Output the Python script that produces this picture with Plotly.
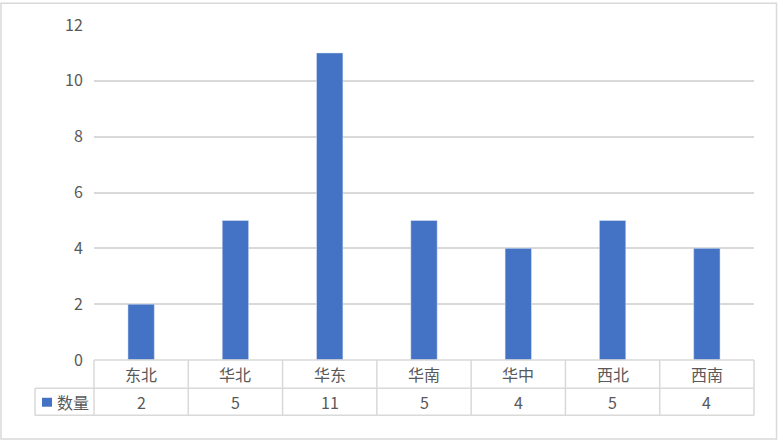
import plotly.graph_objects as go

categories = ["东北", "华北", "华东", "华南", "华中", "西北", "西南"]
values = [2, 5, 11, 5, 4, 5, 4]
series_name = "数量"
y_ticks = [0, 2, 4, 6, 8, 10, 12]

W, H = 778, 441
L, R, T, B = 94, 754, 23, 360  # plot area in pixels
PW, PH = R - L, B - T

def px(x):
    return (x - L) / PW

def py(y):
    return (B - y) / PH

BAR = "#4472C4"
GRID = "#D9D9D9"
TXT = "#595959"
FONT = "Noto Sans CJK SC"

fig = go.Figure(go.Bar(x=categories, y=values, marker_color=BAR, width=0.28,
                       name=series_name, showlegend=False, hoverinfo="x+y"))

shapes = []
line = dict(color=GRID, width=1.5)
row1, row2 = 388.5, 415.5
n = len(categories)
# horizontal table lines
shapes.append(dict(type="line", xref="paper", yref="paper", x0=0, x1=1, y0=0, y1=0, line=line))
for yy in (row1, row2):
    shapes.append(dict(type="line", xref="paper", yref="paper", x0=px(35), x1=1, y0=py(yy), y1=py(yy), line=line))
# vertical table lines
shapes.append(dict(type="line", xref="paper", yref="paper", x0=px(35), x1=px(35), y0=py(row1), y1=py(row2), line=line))
shapes.append(dict(type="line", xref="paper", yref="paper", x0=0, x1=0, y0=0, y1=py(row2), line=line))
for i in range(n):
    xb = (i + 1) / n
    shapes.append(dict(type="line", xref="paper", yref="paper", x0=xb, x1=xb, y0=0, y1=py(row2), line=line))
# legend key
shapes.append(dict(type="rect", xref="paper", yref="paper", x0=px(42), x1=px(52), y0=py(398), y1=py(407),
                   fillcolor=BAR, line=dict(width=0)))
# outer border
shapes.append(dict(type="rect", xref="paper", yref="paper", x0=px(1), x1=px(776.5), y0=py(1), y1=py(439.5),
                   line=dict(color=GRID, width=1.5), fillcolor="rgba(0,0,0,0)"))

annotations = []
for c, v in zip(categories, values):
    annotations.append(dict(x=c, xref="x", y=py(374.5), yref="paper", text=c, showarrow=False,
                            font=dict(family=FONT, size=16, color=TXT), xanchor="center", yanchor="middle"))
    annotations.append(dict(x=c, xref="x", y=py(402.5), yref="paper", text=str(v), showarrow=False,
                            font=dict(family=FONT, size=16, color=TXT), xanchor="center", yanchor="middle"))
annotations.append(dict(x=px(55), xref="paper", y=py(402.5), yref="paper", text=series_name, showarrow=False,
                        font=dict(family=FONT, size=16, color=TXT), xanchor="left", yanchor="middle"))

fig.update_layout(
    width=W, height=H,
    margin=dict(l=L, r=W - R, t=T, b=H - B, pad=0),
    paper_bgcolor="white", plot_bgcolor="white",
    bargap=0.72,
    shapes=shapes, annotations=annotations,
    font=dict(family=FONT, size=16, color=TXT),
    xaxis=dict(showticklabels=False, showgrid=False, zeroline=False, showline=False, ticks=""),
    yaxis=dict(range=[0, 12], tickvals=y_ticks, showgrid=True, gridcolor=GRID, gridwidth=1.5,
               zeroline=False, showline=False, ticks="outside", ticklen=7, tickcolor="rgba(0,0,0,0)",
               tickfont=dict(family=FONT, size=16, color=TXT)),
)

fig.write_html("out.html", config={"displayModeBar": False},
               post_script="document.body.style.margin='0';document.body.style.overflow='hidden';")
